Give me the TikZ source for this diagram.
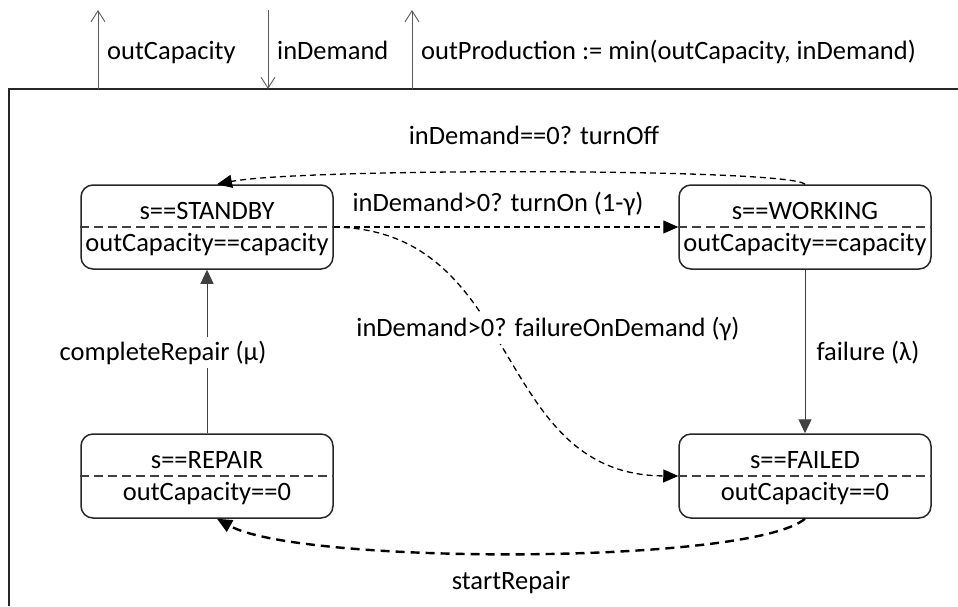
\documentclass[tikz,border=0pt]{standalone}
\usepackage{fontspec}
\setmainfont{Carlito}
\usetikzlibrary{arrows.meta,calc}
\begin{document}
\begin{tikzpicture}[x=1pt,y=-1pt,
  every node/.style={font=\fontsize{26.5}{30}\selectfont, inner sep=0pt},
  state/.style={draw=black!85, line width=1.5pt, rounded corners=12pt,
    minimum width=252pt, minimum height=84pt},
  divider/.style={draw=black!75, line width=1.1pt, dash pattern=on 9pt off 5pt},
  txt/.style={anchor=base},
  port/.style={draw=black!65, line width=0.9pt, -{Straight Barb[length=11pt,width=14pt]}},
  solidtr/.style={draw=black!75, line width=1pt, -{Triangle[length=14pt,width=13pt]}},
  dashtr/.style={draw=black, line width=1.3pt, dash pattern=on 6pt off 4pt,
    -{Triangle[length=15pt,width=13pt]}},
  heavytr/.style={draw=black, line width=2.4pt, dash pattern=on 9pt off 6pt,
    -{Triangle[length=15pt,width=13pt]}},
  lbl/.style={anchor=base},
  cutlbl/.style={anchor=base, fill=white, inner sep=4pt}
]
\useasboundingbox (0,0) rectangle (958,606);

% component frame (open to the right and bottom)
\draw[line width=1.8pt, draw=black!85] (958,89) -- (9,89) -- (9,606);

% ports on the frame
\coordinate (pOc) at (98,89);   \coordinate (pOcEnd) at (98,10);
\coordinate (pId0) at (268,10); \coordinate (pId) at (268,89);
\coordinate (pOp) at (412,89);  \coordinate (pOpEnd) at (412,10);
\draw[port] (pOc) -- (pOcEnd);
\draw[port] (pId0) -- (pId);
\draw[port] (pOp) -- (pOpEnd);
\node[anchor=base west] (lOc) at (107,59) {outCapacity};
\node[anchor=base west] (lId) at (277,59) {inDemand};
\node[anchor=base west] (lOp) at (421,59) {outProduction := min(outCapacity, inDemand)};

% states
\node[state] (sb)  at (207,227) {};
\node[state] (wk)  at (805,227) {};
\node[state] (rep) at (207,476) {};
\node[state] (fl)  at (805,476) {};
\foreach \s in {sb,wk,rep,fl} \draw[divider] (\s.west) -- (\s.east);

\node[txt] (sbA)  at (207,219.5) {s==STANDBY};
\node[txt] (sbB)  at (207,251.5) {outCapacity==capacity};
\node[txt] (wkA)  at (805,219.5) {s==WORKING};
\node[txt] (wkB)  at (805,251.5) {outCapacity==capacity};
\node[txt] (repA) at (207,468.5) {s==REPAIR};
\node[txt] (repB) at (207,500.5) {outCapacity==0};
\node[txt] (flA)  at (805,468.5) {s==FAILED};
\node[txt] (flB)  at (805,500.5) {outCapacity==0};

% transitions
\draw[solidtr] (rep.north) -- (sb.south);
\draw[solidtr] (wk.south) -- (fl.north);
\draw[dashtr] (wk.north) .. controls (790,168) and (300,168) .. ([xshift=10pt]sb.north);
\draw[dashtr] (sb.east) -- (wk.west);
\draw[dashtr] (sb.east) .. controls (525,230) and (490,475) .. (fl.west);
\draw[heavytr] (fl.south) .. controls (750,565) and (300,565) .. ([xshift=10pt]rep.south);

% transition labels
\node[lbl] (lOff) at (534,144) {inDemand==0? turnOff};
\node[lbl] (lOn) at (498,211) {inDemand>0? turnOn (1-γ)};
\node[cutlbl] (lFod) at (548,336) {inDemand>0? failureOnDemand (γ)};
\node[cutlbl] (lRep) at (163,360) {completeRepair (μ)};
\node[lbl] (lFail) at (868,360) {failure (λ)};
\node[lbl] (lStart) at (511,589) {startRepair};
\end{tikzpicture}
\end{document}
